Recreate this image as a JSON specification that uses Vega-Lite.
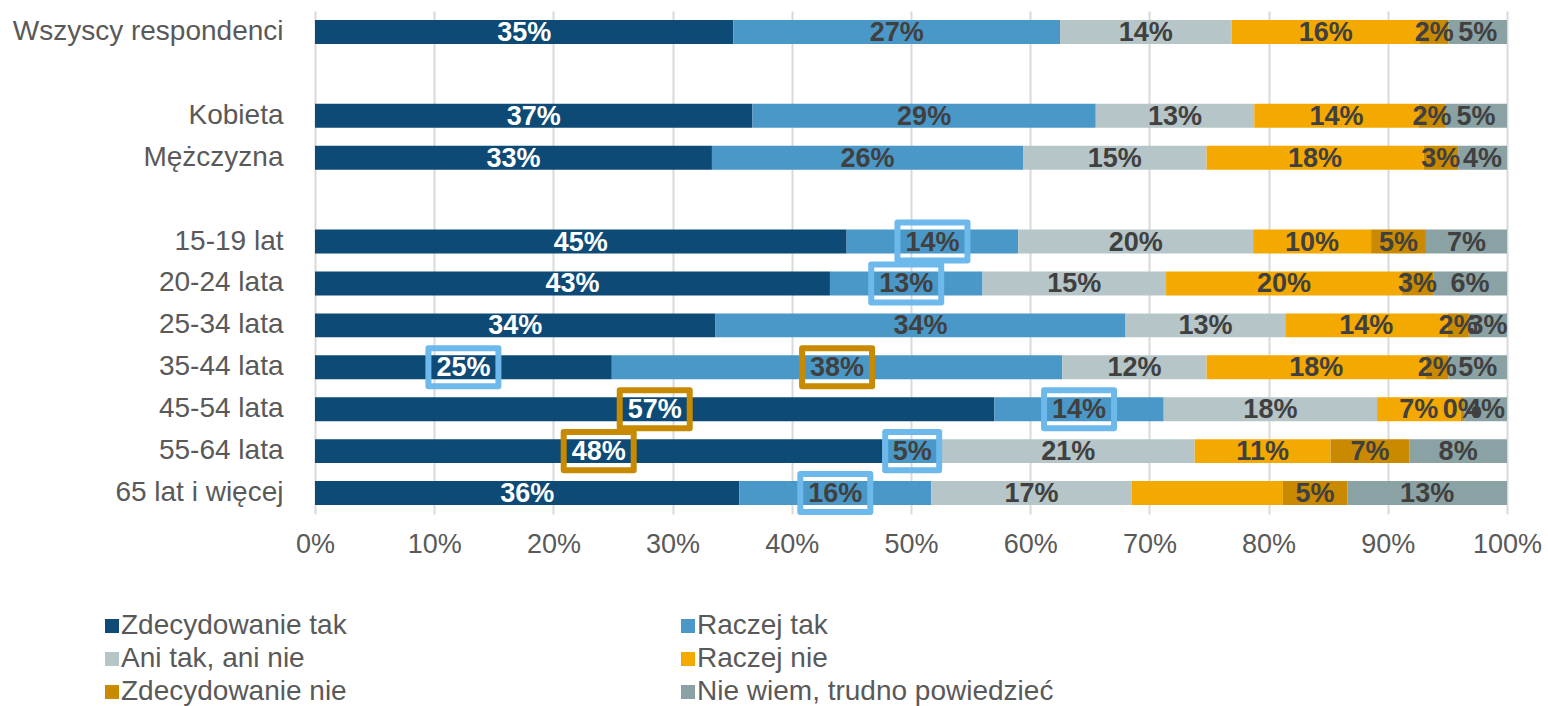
{
  "$schema": "https://vega.github.io/schema/vega-lite/v6.json",
  "width": 1192,
  "height": 503,
  "autosize": {"type": "none"},
  "padding": {"left": 315, "top": 11, "right": 41, "bottom": 192},
  "background": "white",
  "config": {
    "view": {"stroke": null},
    "font": "Liberation Sans",
    "axisX": {"grid": true, "gridColor": "#D9D9D9", "gridWidth": 2, "domain": false, "ticks": false, "labelFontSize": 27, "labelColor": "#595959", "labelPadding": 17, "labelFlush": false, "labelOverlap": false, "labelFont": "Liberation Sans"},
    "axisY": {"grid": false, "domain": false, "ticks": false, "labelFontSize": 28, "labelColor": "#595959", "labelPadding": 32, "labelLimit": 400, "labelFont": "Liberation Sans"}
  },
  "data": {
    "values": [
      {"group": "Wszyscy respondenci", "answer": "Zdecydowanie tak", "k": 1, "value": 0.351, "highlight": ""},
      {"group": "Wszyscy respondenci", "answer": "Raczej tak", "k": 2, "value": 0.274, "highlight": ""},
      {"group": "Wszyscy respondenci", "answer": "Ani tak, ani nie", "k": 3, "value": 0.144, "highlight": ""},
      {"group": "Wszyscy respondenci", "answer": "Raczej nie", "k": 4, "value": 0.158, "highlight": ""},
      {"group": "Wszyscy respondenci", "answer": "Zdecydowanie nie", "k": 5, "value": 0.024, "highlight": ""},
      {"group": "Wszyscy respondenci", "answer": "Nie wiem, trudno powiedzieć", "k": 6, "value": 0.049, "highlight": ""},
      {"group": "Kobieta", "answer": "Zdecydowanie tak", "k": 1, "value": 0.367, "highlight": ""},
      {"group": "Kobieta", "answer": "Raczej tak", "k": 2, "value": 0.288, "highlight": ""},
      {"group": "Kobieta", "answer": "Ani tak, ani nie", "k": 3, "value": 0.133, "highlight": ""},
      {"group": "Kobieta", "answer": "Raczej nie", "k": 4, "value": 0.138, "highlight": ""},
      {"group": "Kobieta", "answer": "Zdecydowanie nie", "k": 5, "value": 0.022, "highlight": ""},
      {"group": "Kobieta", "answer": "Nie wiem, trudno powiedzieć", "k": 6, "value": 0.052, "highlight": ""},
      {"group": "Mężczyzna", "answer": "Zdecydowanie tak", "k": 1, "value": 0.333, "highlight": ""},
      {"group": "Mężczyzna", "answer": "Raczej tak", "k": 2, "value": 0.261, "highlight": ""},
      {"group": "Mężczyzna", "answer": "Ani tak, ani nie", "k": 3, "value": 0.154, "highlight": ""},
      {"group": "Mężczyzna", "answer": "Raczej nie", "k": 4, "value": 0.182, "highlight": ""},
      {"group": "Mężczyzna", "answer": "Zdecydowanie nie", "k": 5, "value": 0.029, "highlight": ""},
      {"group": "Mężczyzna", "answer": "Nie wiem, trudno powiedzieć", "k": 6, "value": 0.041, "highlight": ""},
      {"group": "15-19 lat", "answer": "Zdecydowanie tak", "k": 1, "value": 0.446, "highlight": ""},
      {"group": "15-19 lat", "answer": "Raczej tak", "k": 2, "value": 0.144, "highlight": "min"},
      {"group": "15-19 lat", "answer": "Ani tak, ani nie", "k": 3, "value": 0.197, "highlight": ""},
      {"group": "15-19 lat", "answer": "Raczej nie", "k": 4, "value": 0.099, "highlight": ""},
      {"group": "15-19 lat", "answer": "Zdecydowanie nie", "k": 5, "value": 0.046, "highlight": ""},
      {"group": "15-19 lat", "answer": "Nie wiem, trudno powiedzieć", "k": 6, "value": 0.068, "highlight": ""},
      {"group": "20-24 lata", "answer": "Zdecydowanie tak", "k": 1, "value": 0.432, "highlight": ""},
      {"group": "20-24 lata", "answer": "Raczej tak", "k": 2, "value": 0.128, "highlight": "min"},
      {"group": "20-24 lata", "answer": "Ani tak, ani nie", "k": 3, "value": 0.154, "highlight": ""},
      {"group": "20-24 lata", "answer": "Raczej nie", "k": 4, "value": 0.198, "highlight": ""},
      {"group": "20-24 lata", "answer": "Zdecydowanie nie", "k": 5, "value": 0.026, "highlight": ""},
      {"group": "20-24 lata", "answer": "Nie wiem, trudno powiedzieć", "k": 6, "value": 0.062, "highlight": ""},
      {"group": "25-34 lata", "answer": "Zdecydowanie tak", "k": 1, "value": 0.336, "highlight": ""},
      {"group": "25-34 lata", "answer": "Raczej tak", "k": 2, "value": 0.344, "highlight": ""},
      {"group": "25-34 lata", "answer": "Ani tak, ani nie", "k": 3, "value": 0.134, "highlight": ""},
      {"group": "25-34 lata", "answer": "Raczej nie", "k": 4, "value": 0.136, "highlight": ""},
      {"group": "25-34 lata", "answer": "Zdecydowanie nie", "k": 5, "value": 0.018, "highlight": ""},
      {"group": "25-34 lata", "answer": "Nie wiem, trudno powiedzieć", "k": 6, "value": 0.032, "highlight": ""},
      {"group": "35-44 lata", "answer": "Zdecydowanie tak", "k": 1, "value": 0.249, "highlight": "min"},
      {"group": "35-44 lata", "answer": "Raczej tak", "k": 2, "value": 0.378, "highlight": "max"},
      {"group": "35-44 lata", "answer": "Ani tak, ani nie", "k": 3, "value": 0.121, "highlight": ""},
      {"group": "35-44 lata", "answer": "Raczej nie", "k": 4, "value": 0.184, "highlight": ""},
      {"group": "35-44 lata", "answer": "Zdecydowanie nie", "k": 5, "value": 0.019, "highlight": ""},
      {"group": "35-44 lata", "answer": "Nie wiem, trudno powiedzieć", "k": 6, "value": 0.049, "highlight": ""},
      {"group": "45-54 lata", "answer": "Zdecydowanie tak", "k": 1, "value": 0.570, "highlight": "max"},
      {"group": "45-54 lata", "answer": "Raczej tak", "k": 2, "value": 0.142, "highlight": "min"},
      {"group": "45-54 lata", "answer": "Ani tak, ani nie", "k": 3, "value": 0.179, "highlight": ""},
      {"group": "45-54 lata", "answer": "Raczej nie", "k": 4, "value": 0.070, "highlight": ""},
      {"group": "45-54 lata", "answer": "Zdecydowanie nie", "k": 5, "value": 0.003, "highlight": ""},
      {"group": "45-54 lata", "answer": "Nie wiem, trudno powiedzieć", "k": 6, "value": 0.036, "highlight": ""},
      {"group": "55-64 lata", "answer": "Zdecydowanie tak", "k": 1, "value": 0.476, "highlight": "max"},
      {"group": "55-64 lata", "answer": "Raczej tak", "k": 2, "value": 0.050, "highlight": "min"},
      {"group": "55-64 lata", "answer": "Ani tak, ani nie", "k": 3, "value": 0.212, "highlight": ""},
      {"group": "55-64 lata", "answer": "Raczej nie", "k": 4, "value": 0.114, "highlight": ""},
      {"group": "55-64 lata", "answer": "Zdecydowanie nie", "k": 5, "value": 0.066, "highlight": ""},
      {"group": "55-64 lata", "answer": "Nie wiem, trudno powiedzieć", "k": 6, "value": 0.082, "highlight": ""},
      {"group": "65 lat i więcej", "answer": "Zdecydowanie tak", "k": 1, "value": 0.356, "highlight": ""},
      {"group": "65 lat i więcej", "answer": "Raczej tak", "k": 2, "value": 0.161, "highlight": "min"},
      {"group": "65 lat i więcej", "answer": "Ani tak, ani nie", "k": 3, "value": 0.168, "highlight": ""},
      {"group": "65 lat i więcej", "answer": "Raczej nie", "k": 4, "value": 0.127, "highlight": ""},
      {"group": "65 lat i więcej", "answer": "Zdecydowanie nie", "k": 5, "value": 0.054, "highlight": ""},
      {"group": "65 lat i więcej", "answer": "Nie wiem, trudno powiedzieć", "k": 6, "value": 0.134, "highlight": ""}
    ]
  },
  "encoding": {
    "y": {
      "field": "group",
      "type": "nominal",
      "title": null,
      "scale": {
        "domain": ["Wszyscy respondenci", " ", "Kobieta", "Mężczyzna", "  ", "15-19 lat", "20-24 lata", "25-34 lata", "35-44 lata", "45-54 lata", "55-64 lata", "65 lat i więcej"],
        "paddingInner": 0.43,
        "paddingOuter": 0.215
      }
    }
  },
  "layer": [
    {
      "mark": {"type": "bar"},
      "encoding": {
        "x": {
          "field": "value",
          "type": "quantitative",
          "stack": "zero",
          "title": null,
          "scale": {"domain": [0, 1], "nice": false},
          "axis": {"format": ".0%", "values": [0, 0.1, 0.2, 0.3, 0.4, 0.5, 0.6, 0.7, 0.8, 0.9, 1]}
        },
        "order": {"field": "k", "type": "quantitative"},
        "color": {
          "field": "answer",
          "type": "nominal",
          "scale": {
            "domain": ["Zdecydowanie tak", "Raczej tak", "Ani tak, ani nie", "Raczej nie", "Zdecydowanie nie", "Nie wiem, trudno powiedzieć"],
            "range": ["#0D4A75", "#4A98C8", "#B6C5C7", "#F4A900", "#C98A00", "#8BA2A5"]
          },
          "legend": {
            "orient": "none",
            "legendX": -217,
            "legendY": 601,
            "direction": "horizontal",
            "columns": 2,
            "columnPadding": 327,
            "rowPadding": 5,
            "symbolType": "square",
            "symbolSize": 196,
            "symbolStrokeWidth": 0,
            "labelFontSize": 28,
            "labelColor": "#595959",
            "labelOffset": -5,
            "labelLimit": 500,
            "labelFont": "Liberation Sans",
            "title": null
          }
        }
      }
    },
    {
      "mark": {"type": "point", "filled": false, "opacity": 1, "strokeWidth": 6, "size": 4900, "strokeJoin": "round"},
      "encoding": {
        "x": {"field": "value", "type": "quantitative", "stack": "zero", "bandPosition": 0.5, "title": null},
        "detail": {"field": "answer"},
        "order": {"field": "k", "type": "quantitative"},
        "shape": {
          "condition": {"test": "datum.value < 0.095", "value": "M-0.771,-0.543H0.771V0.543H-0.771Z"},
          "value": "M-1,-0.543H1V0.543H-1Z"
        },
        "stroke": {
          "condition": [
            {"test": "datum.highlight === 'min'", "value": "#6DB9EC"},
            {"test": "datum.highlight === 'max'", "value": "#C88A00"}
          ],
          "value": "transparent"
        }
      }
    },
    {
      "mark": {"type": "text", "fontSize": 27, "fontWeight": "bold", "font": "Liberation Sans", "dy": 1},
      "encoding": {
        "x": {"field": "value", "type": "quantitative", "stack": "zero", "bandPosition": 0.5, "title": null},
        "detail": {"field": "answer"},
        "order": {"field": "k", "type": "quantitative"},
        "text": {"field": "value", "type": "quantitative", "format": ".0%"},
        "color": {
          "condition": {"test": "datum.answer === 'Zdecydowanie tak'", "value": "#FFFFFF"},
          "value": "#404040"
        },
        "opacity": {
          "condition": {"test": "datum.group === '65 lat i więcej' && datum.answer === 'Raczej nie'", "value": 0},
          "value": 1
        }
      }
    }
  ]
}
